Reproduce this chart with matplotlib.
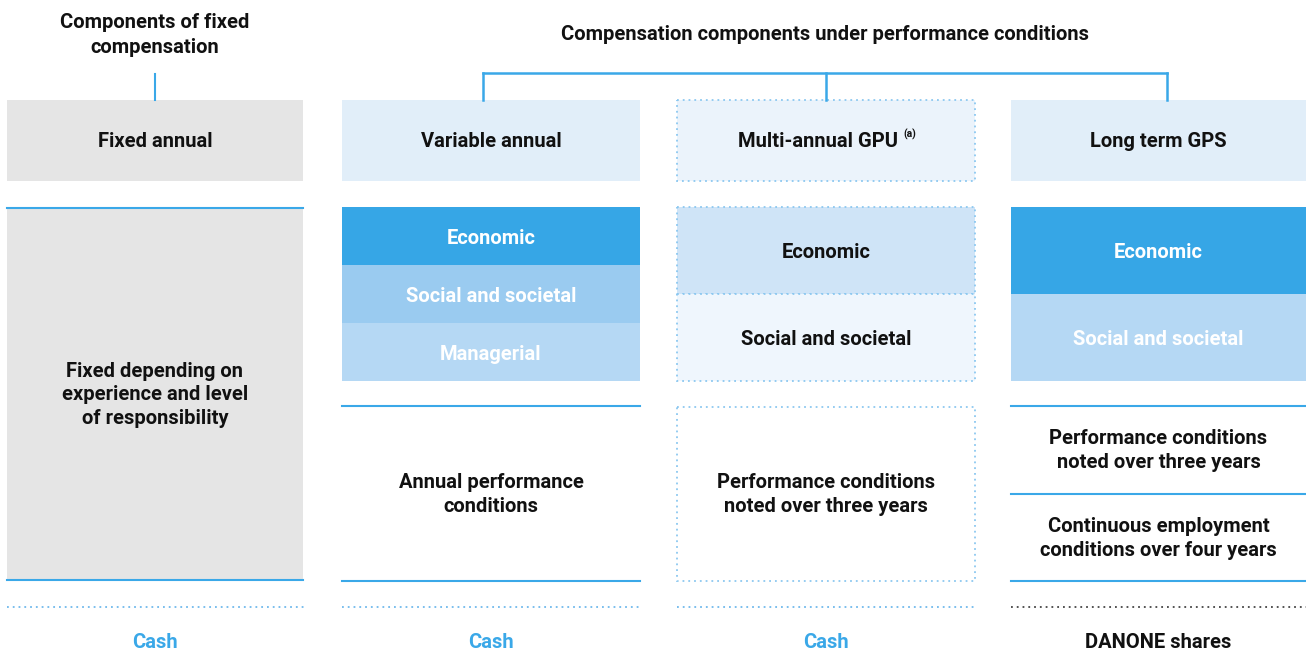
import matplotlib.pyplot as plt
from matplotlib.patches import Rectangle

plt.rcParams['font.family'] = ['Roboto', 'DejaVu Sans']

# données du schéma
fixed_title = "Components of fixed\ncompensation"
perf_title = "Compensation components under performance conditions"
headers = ["Fixed annual", "Variable annual", "Multi-annual GPU", "Long term GPS"]
criteria = [
    [],
    ["Economic", "Social and societal", "Managerial"],
    ["Economic", "Social and societal"],
    ["Economic", "Social and societal"],
]
conditions = [
    ["Fixed depending on\nexperience and level\nof responsibility"],
    ["Annual performance\nconditions"],
    ["Performance conditions\nnoted over three years"],
    ["Performance conditions\nnoted over three years",
     "Continuous employment\nconditions over four years"],
]
payout = ["Cash", "Cash", "Cash", "DANONE shares"]

# mise en page (pixels)
BLUE = '#3aa8e8'
DARK = '#111111'
col_x = [7, 342, 677, 1011]
col_w = [296, 298, 298, 295]
head_y0, head_y1 = 100, 181
crit_y0, crit_y1 = 207, 381
cond_y0, cond_y1 = 406, 581
pay_line_y = 607
pay_text_y = 641

fig = plt.figure(figsize=(13.06, 6.68), dpi=100)
ax = fig.add_axes([0, 0, 1, 1])
ax.set_xlim(0, 1306)
ax.set_ylim(668, 0)
ax.axis('off')

fs = 14.5

# titres et connecteurs
ax.text(155, 35, fixed_title, ha='center', va='center', fontsize=fs,
        fontweight='bold', color=DARK, linespacing=1.35)
ax.plot([155, 155], [74, head_y0], color=BLUE, lw=1.5)
ax.text(825, 35, perf_title, ha='center', va='center', fontsize=fs,
        fontweight='bold', color=DARK)
centers = [col_x[i] + col_w[i] / 2 for i in range(4)]
ax.plot([centers[1] - 8, centers[3] + 8], [73, 73], color=BLUE, lw=1.8)
for c in centers[1:]:
    ax.plot([c - 8 if c == centers[1] else (c + 8 if c == centers[3] else c)] * 2,
            [73, head_y0], color=BLUE, lw=1.8)

dotted = dict(linestyle=(0, (1, 2.2)), linewidth=1.3, edgecolor='#8cc8f0')

for i in range(4):
    x0, w = col_x[i], col_w[i]
    cx = x0 + w / 2

    # en-tête
    if i == 0:
        ax.add_patch(Rectangle((x0, head_y0), w, head_y1 - head_y0, facecolor='#e5e5e5', lw=0))
    elif i == 2:
        ax.add_patch(Rectangle((x0, head_y0), w, head_y1 - head_y0, facecolor='#ebf3fb', **dotted))
    else:
        ax.add_patch(Rectangle((x0, head_y0), w, head_y1 - head_y0, facecolor='#e1eef9', lw=0))
    if i == 2:
        ax.text(cx - 8, (head_y0 + head_y1) / 2 + 1, headers[i], ha='center', va='center',
                fontsize=fs, fontweight='bold', color=DARK)
        ax.text(cx + 84, (head_y0 + head_y1) / 2 - 6, "(a)", ha='center', va='center',
                fontsize=7.5, fontweight='bold', color=DARK)
    else:
        ax.text(cx, (head_y0 + head_y1) / 2 + 1, headers[i], ha='center', va='center',
                fontsize=fs, fontweight='bold', color=DARK)

    # critères
    if i == 0:
        ax.add_patch(Rectangle((x0, 208), w, cond_y1 - 208, facecolor='#e5e5e5', lw=0))
        ax.plot([x0, x0 + w], [208, 208], color=BLUE, lw=1.5)
        ax.plot([x0, x0 + w], [580, 580], color=BLUE, lw=1.5)
        ax.text(cx, 395, conditions[0][0], ha='center', va='center', fontsize=fs,
                fontweight='bold', color=DARK, linespacing=1.3)
    else:
        crit = criteria[i]
        h = (crit_y1 - crit_y0) / len(crit)
        if i == 1:
            fills = ['#36a6e6', '#9acbf0', '#b5d8f4']
            tcol = ['white'] * 3
        elif i == 2:
            fills = ['#cfe4f7', '#eff6fd']
            tcol = [DARK, DARK]
        else:
            fills = ['#36a6e6', '#b5d8f4']
            tcol = ['white', 'white']
        for j, lab in enumerate(crit):
            y = crit_y0 + j * h
            if i == 2:
                ax.add_patch(Rectangle((x0, y), w, h, facecolor=fills[j], **dotted))
            else:
                ax.add_patch(Rectangle((x0, y), w, h, facecolor=fills[j], lw=0))
            ax.text(cx, y + h / 2 + 2, lab, ha='center', va='center', fontsize=fs,
                    fontweight='bold', color=tcol[j])

        # conditions
        conds = conditions[i]
        if i == 2:
            ax.add_patch(Rectangle((x0, cond_y0 + 1), w, cond_y1 - cond_y0 - 1,
                                   facecolor='white', **dotted))
        else:
            hc = (cond_y1 - cond_y0) / len(conds)
            for k in range(len(conds) + 1):
                yy = cond_y0 + k * hc
                ax.plot([x0, x0 + w], [yy, yy], color=BLUE, lw=1.5)
        hc = (cond_y1 - cond_y0) / len(conds)
        for k, t in enumerate(conds):
            ax.text(cx, cond_y0 + (k + 0.5) * hc + 1, t, ha='center', va='center',
                    fontsize=fs, fontweight='bold', color=DARK, linespacing=1.3)

    # paiement
    lc = '#444444' if i == 3 else '#6fb9ec'
    ax.plot([x0, x0 + w + (4 if i == 0 else 0)], [pay_line_y, pay_line_y], color=lc,
            lw=1.3, linestyle=(0, (1, 2.2)))
    ax.text(cx if i else 155, pay_text_y + 1, payout[i], ha='center', va='center', fontsize=fs,
            fontweight='bold', color=DARK if i == 3 else BLUE)

fig.savefig('out.png', dpi=100)
